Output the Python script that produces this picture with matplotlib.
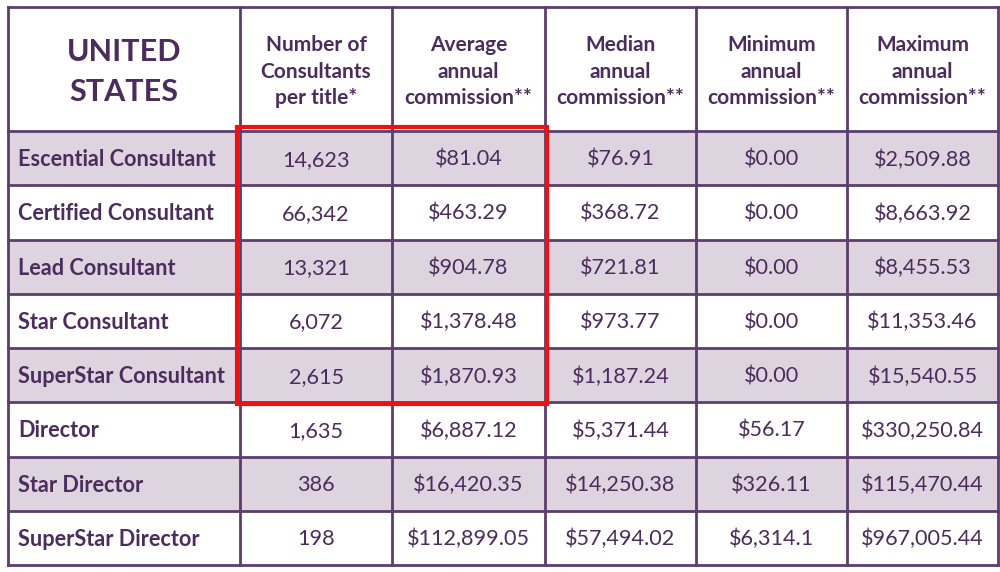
import matplotlib.pyplot as plt
from matplotlib.patches import Rectangle

plt.rcParams['font.family'] = ['Lato', 'DejaVu Sans']

# table content
corner_title = "UNITED\nSTATES"
col_headers = ["Number of\nConsultants\nper title*",
               "Average\nannual\ncommission**",
               "Median\nannual\ncommission**",
               "Minimum\nannual\ncommission**",
               "Maximum\nannual\ncommission**"]
titles = ["Escential Consultant", "Certified Consultant", "Lead Consultant",
          "Star Consultant", "SuperStar Consultant", "Director",
          "Star Director", "SuperStar Director"]
n_consultants = ["14,623", "66,342", "13,321", "6,072", "2,615", "1,635", "386", "198"]
avg_comm = ["$81.04", "$463.29", "$904.78", "$1,378.48", "$1,870.93",
            "$6,887.12", "$16,420.35", "$112,899.05"]
median_comm = ["$76.91", "$368.72", "$721.81", "$973.77", "$1,187.24",
               "$5,371.44", "$14,250.38", "$57,494.02"]
min_comm = ["$0.00", "$0.00", "$0.00", "$0.00", "$0.00",
            "$56.17", "$326.11", "$6,314.1"]
max_comm = ["$2,509.88", "$8,663.92", "$8,455.53", "$11,353.46", "$15,540.55",
            "$330,250.84", "$115,470.44", "$967,005.44"]

# layout (pixels)
col_edges = [8, 240, 392, 545, 696, 847, 998]
header_top, header_bottom, table_bottom = 7, 131, 565
n_rows = len(titles)
row_h = (table_bottom - header_bottom) / n_rows

purple = "#4b2c5c"
line_col = "#5c3d6b"
shade = "#ddd4df"
body_fs = 15.6

fig = plt.figure(figsize=(10, 5.72), dpi=100)
ax = fig.add_axes([0, 0, 1, 1])
ax.set_xlim(0, 1000)
ax.set_ylim(572, 0)
ax.axis('off')

columns = [titles, n_consultants, avg_comm, median_comm, min_comm, max_comm]

# shaded rows
for i in range(n_rows):
    if i % 2 == 0:
        y0 = header_bottom + i * row_h
        ax.add_patch(Rectangle((col_edges[0], y0), col_edges[-1] - col_edges[0], row_h,
                               facecolor=shade, edgecolor='none', zorder=1))

# grid lines
for x in col_edges:
    ax.plot([x, x], [header_top, table_bottom], color=line_col, lw=2, zorder=2,
            solid_capstyle='projecting')
for k in range(n_rows + 1):
    y = header_bottom + k * row_h
    ax.plot([col_edges[0], col_edges[-1]], [y, y], color=line_col, lw=2, zorder=2,
            solid_capstyle='projecting')
ax.plot([col_edges[0], col_edges[-1]], [header_top, header_top], color=line_col, lw=2,
        zorder=2, solid_capstyle='projecting')

# header
hy = (header_top + header_bottom) / 2
ax.text((col_edges[0] + col_edges[1]) / 2, hy + 3, corner_title, ha='center', va='center',
        fontsize=22, fontweight='bold', color=purple, linespacing=1.5, zorder=3)
for j, h in enumerate(col_headers):
    cx = (col_edges[j + 1] + col_edges[j + 2]) / 2
    ax.text(cx, hy + 2.5, h, ha='center', va='center', fontsize=15, fontweight='bold',
            color=purple, linespacing=1.4, zorder=3)

# body
for i in range(n_rows):
    cy = header_bottom + (i + 0.5) * row_h + 1.5
    ax.text(col_edges[0] + 10, cy, titles[i], ha='left', va='center', fontsize=body_fs,
            fontweight='bold', color=purple, zorder=3)
    for j in range(1, len(columns)):
        cx = (col_edges[j] + col_edges[j + 1]) / 2
        ax.text(cx, cy, columns[j][i], ha='center', va='center', fontsize=body_fs,
                color=purple, zorder=3)

# red highlight box around first two data columns, first five rows
ax.add_patch(Rectangle((col_edges[1] - 3, header_bottom - 4), col_edges[3] - col_edges[1] + 5,
                       5 * row_h + 6, facecolor='none', edgecolor='#ee1111', lw=3, zorder=4))

fig.savefig("out.png", dpi=100)
